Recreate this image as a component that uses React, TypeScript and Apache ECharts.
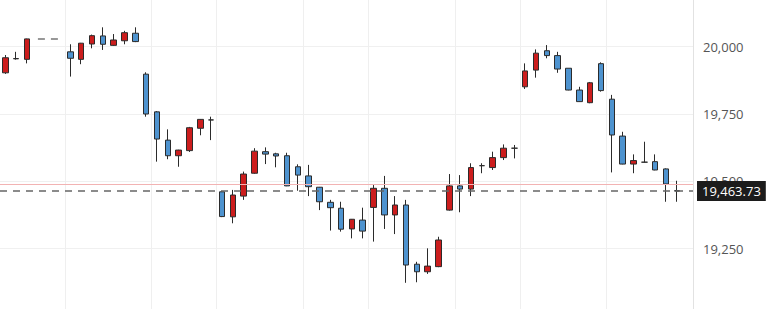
import React, { useEffect, useRef } from "react";
import * as echarts from "echarts";

const categories: string[] = [
  "1", "2", "3", "4", "5", "6", "7", "8", "9", "10",
  "11", "12", "13", "14", "15", "16", "17", "18", "19", "20",
  "21", "22", "23", "24", "25", "26", "27", "28", "29", "30",
  "31", "32", "33", "34", "35", "36", "37", "38", "39", "40",
  "41", "42", "43", "44", "45", "46", "47", "48", "49", "50",
  "51", "52", "53", "54", "55", "56", "57", "58", "59", "60",
  "61", "62", "63", "64",
];

const opens: (number | null)[] = [
  19903, 19955, 19953, null, null, null, 19981, 19953, 20010, 20040,
  20005, 20022, 20050, 19898, 19758, 19653, 19595, 19614, 19697, 19728,
  19461, 19368, 19445, 19530, 19610, 19602, 19595, 19554, 19520, 19478,
  19422, 19400, 19323, 19356, 19403, 19474, 19375, 19412, 19192, 19164,
  19183, 19393, 19483, 19471, 19558, 19551, 19588, 19623, 19851, 19913,
  19985, 19967, 19920, 19839, 19792, 19937, 19805, 19668, 19564, 19571,
  19573, 19546, 19465, null,
];

const closes: (number | null)[] = [
  19959, 19956, 20029, null, null, null, 19957, 20013, 20041, 20009,
  20025, 20052, 20019, 19750, 19657, 19595, 19616, 19699, 19730, 19728,
  19369, 19449, 19527, 19612, 19601, 19594, 19483, 19523, 19480, 19424,
  19402, 19322, 19359, 19315, 19474, 19375, 19412, 19189, 19164, 19185,
  19282, 19483, 19471, 19551, 19558, 19588, 19623, 19623, 19910, 19976,
  19967, 19917, 19839, 19796, 19866, 19837, 19672, 19564, 19577, 19571,
  19542, 19490, 19463.73, null,
];

const highs: (number | null)[] = [
  19969, 19981, 20030, null, null, null, 20009, 20014, 20045, 20072,
  20047, 20059, 20072, 19905, 19761, 19693, 19617, 19702, 19731, 19740,
  19464, 19468, 19536, 19623, 19626, 19606, 19606, 19563, 19561, 19479,
  19431, 19424, 19360, 19402, 19486, 19520, 19445, 19431, 19201, 19251,
  19294, 19527, 19523, 19567, 19567, 19610, 19637, 19635, 19938, 19990,
  20006, 19981, 19920, 19851, 19869, 19942, 19821, 19684, 19600, 19647,
  19600, 19548, 19502, null,
];

const lows: (number | null)[] = [
  19899, 19952, 19938, null, null, null, 19889, 19935, 19994, 19988,
  20003, 20009, 20017, 19740, 19573, 19582, 19554, 19609, 19671, 19653,
  19367, 19344, 19431, 19528, 19564, 19552, 19482, 19465, 19445, 19393,
  19317, 19313, 19288, 19288, 19276, 19323, 19304, 19123, 19125, 19156,
  19181, 19391, 19385, 19445, 19530, 19542, 19579, 19585, 19843, 19885,
  19957, 19903, 19838, 19795, 19790, 19833, 19533, 19563, 19530, 19570,
  19541, 19424, 19424, null,
];

// indices of categories that start a new session (vertical grid lines)
const sessionStarts: number[] = [6, 14, 20, 28, 34, 42, 48, 56];

const yTicks = { min: 19000, max: 20250, interval: 250 };
const lastPrice = 19463.73;
const previousClose = 19488;

export default function App() {
  const ref = useRef<HTMLDivElement>(null);

  useEffect(() => {
    if (!ref.current) return;
    const chart = echarts.init(ref.current, undefined, { renderer: "svg" });

    const lastDataIndex = closes.reduce(
      (acc: number, c, i) => (c !== null ? i : acc),
      0
    );

    const candleData = categories.map((_, i) =>
      opens[i] === null
        ? ["-", "-", "-", "-"]
        : [opens[i], closes[i], lows[i], highs[i]]
    );

    // dashed connector across empty slots inside the series at the last known close
    let lastClose: number | null = null;
    const gapLine = categories.map((_, i) => {
      if (i > lastDataIndex) return null;
      if (opens[i] === null) return lastClose;
      lastClose = closes[i];
      return null;
    });

    const fmt = (v: number) =>
      v.toLocaleString("en-US", { maximumFractionDigits: 2 });

    chart.setOption({
      animation: false,
      backgroundColor: "#ffffff",
      grid: {
        left: 0,
        right: 80,
        top: -20.6,
        bottom: -6.9,
        containLabel: false,
        outerBoundsMode: "none",
      },
      xAxis: {
        type: "category",
        data: categories,
        boundaryGap: true,
        axisLine: { show: false },
        axisTick: { show: false },
        axisLabel: { show: false },
        splitLine: {
          show: true,
          interval: (index: number) => sessionStarts.includes(index),
          lineStyle: { color: "#efefef", width: 1 },
        },
      },
      yAxis: {
        type: "value",
        position: "right",
        min: yTicks.min,
        max: yTicks.max,
        interval: yTicks.interval,
        scale: true,
        axisLine: { show: true, lineStyle: { color: "#e2e2e2", width: 1 } },
        axisTick: { show: false },
        axisLabel: {
          margin: 10,
          color: "#555555",
          fontSize: 13,
          fontFamily: "Open Sans",
          showMinLabel: false,
          showMaxLabel: false,
          formatter: (v: number) => v.toLocaleString("en-US"),
        },
        splitLine: { show: true, lineStyle: { color: "#f0f0f0", width: 1 } },
      },
      series: [
        {
          type: "candlestick",
          data: candleData,
          barWidth: 6,
          itemStyle: {
            color: "#cc1d1d",
            color0: "#4e93cf",
            borderColor: "#2b2b2b",
            borderColor0: "#2b2b2b",
            borderWidth: 1,
          },
          markLine: {
            silent: true,
            symbol: ["none", "none"],
            data: [
              {
                yAxis: previousClose,
                lineStyle: { color: "#f2b3b3", type: "solid", width: 1 },
                label: { show: false },
              },
              {
                yAxis: lastPrice,
                lineStyle: { color: "#666666", type: [7, 6], width: 1.5 },
                label: {
                  show: true,
                  position: "end",
                  distance: 4,
                  formatter: () => fmt(lastPrice),
                  color: "#ffffff",
                  backgroundColor: "#1c1c1c",
                  fontSize: 13,
                  fontFamily: "Open Sans",
                  padding: [4, 5, 3, 5],
                },
              },
            ],
          },
        },
        {
          type: "line",
          data: gapLine,
          symbol: "none",
          connectNulls: false,
          lineStyle: { color: "#777777", type: [7, 6], width: 1.5 },
        },
      ],
    });

    return () => chart.dispose();
  }, []);

  return (
    <div
      ref={ref}
      style={{ position: "absolute", left: 0, top: 0, width: 773, height: 309 }}
    />
  );
}
